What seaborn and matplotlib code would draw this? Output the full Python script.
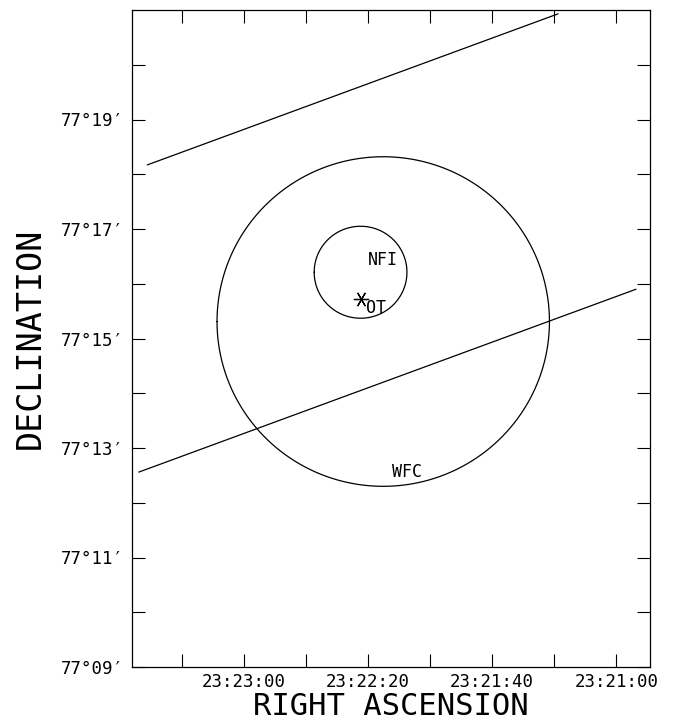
import numpy as np
import pandas as pd
import matplotlib.pyplot as plt
import seaborn as sns


# ---- Data ----------------------------------------------------####

# RA in seconds of time after 23h20m00s, Dec in arcmin after 77 deg
ra_lim = [216.0, 49.2]
dec_lim = [9.0, 21.0]
dec_ref = 77.0  # deg, sets the RA/Dec aspect of the circles

# two straight edges
upper_ra = [211.1, 78.8]
upper_dec = [18.17, 20.93]
lower_ra = [213.8, 53.7]
lower_dec = [12.56, 15.90]

# error circles
circle_names = ['WFC', 'NFI']
circle_ra = [135.1, 142.4]
circle_dec = [15.31, 16.21]
circle_rad = [3.01, 0.84]  # arcmin

# optical transient
ot_ra = [142.3]
ot_dec = [15.72]

# text labels
label_text = ['NFI', 'OT', 'WFC']
label_ra = [140.0, 140.6, 132.3]
label_dec = [16.44, 15.56, 12.56]

# ticks
xtick_vals = [200, 180, 160, 140, 120, 100, 80, 60]
xtick_labels = ['', '23:23:00', '', '23:22:20', '', '23:21:40', '', '23:21:00']
ytick_vals = list(range(9, 21))
ytick_labels = ["77\u00b0%02d\u2032" % v if v % 2 == 1 else '' for v in ytick_vals]


# ---- Build frames ----------------------------------------------------####

sec_per_arcmin = 4.0 / np.cos(np.radians(dec_ref))
theta = np.linspace(0, 2 * np.pi, 361)
circle_rows = []
for name, cra, cdec, rad in zip(circle_names, circle_ra, circle_dec, circle_rad):
    circle_rows.append(pd.DataFrame({'name': name,
                                     'ra': cra + rad * sec_per_arcmin * np.cos(theta),
                                     'dec': cdec + rad * np.sin(theta),
                                     'order': np.arange(len(theta))}))
circles = pd.concat(circle_rows).reset_index(drop=True)

edges = pd.DataFrame({'name': ['upper', 'upper', 'lower', 'lower'],
                      'ra': upper_ra + lower_ra,
                      'dec': upper_dec + lower_dec})


# ---- Plot -----------------------------------------------------------####

sns.set_style('white')
plt.rcParams['font.family'] = ['DejaVu Sans Mono', 'DejaVu Sans']
plt.rcParams['text.color'] = 'black'
plt.rcParams['axes.labelcolor'] = 'black'
fig = plt.figure(figsize=(6.74, 7.25), dpi=100)
ax = fig.add_axes([132 / 674, 1 - 667 / 725, 518 / 674, 657 / 725])

sns.lineplot(data=edges, x='ra', y='dec', units='name', estimator=None, sort=False,
             color='black', linewidth=0.9, ax=ax)
sns.lineplot(data=circles, x='ra', y='dec', units='name', estimator=None, sort=False,
             color='black', linewidth=0.9, ax=ax)
ax.plot(ot_ra, ot_dec, linestyle='none', marker=(6, 2, 90), markersize=11,
        markeredgecolor='black', markeredgewidth=0.9)

for txt, xr, yd in zip(label_text, label_ra, label_dec):
    ax.text(xr, yd, txt, ha='left', va='center', fontsize=12, color='black')

ax.set_xlim(ra_lim)
ax.set_ylim(dec_lim)
ax.set_xticks(xtick_vals)
ax.set_xticklabels(xtick_labels)
ax.set_yticks(ytick_vals)
ax.set_yticklabels(ytick_labels)
ax.tick_params(direction='in', length=9.5, width=0.8, colors='black', labelsize=12.5,
               top=True, right=True, bottom=True, left=True, pad=6)
ax.tick_params(axis='x', pad=4)
for s in ax.spines.values():
    s.set_color('black')
    s.set_linewidth(0.9)

ax.set_xlabel('RIGHT ASCENSION', fontsize=22, labelpad=1)
ax.set_ylabel('DECLINATION', fontsize=24, labelpad=10)

fig.savefig('out.png', dpi=100)
